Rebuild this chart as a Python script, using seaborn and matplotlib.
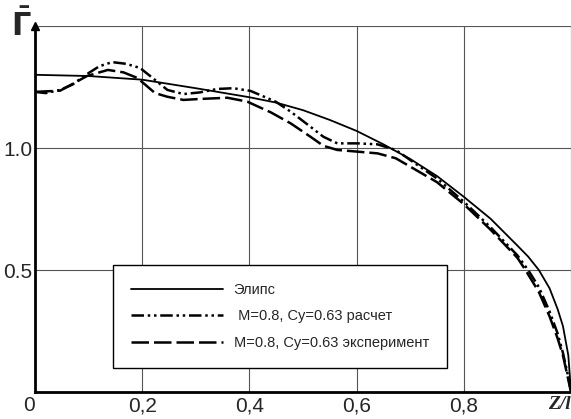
import pandas as pd
import seaborn as sns
import matplotlib.pyplot as plt

# values
ellipse_z = [0.0, 0.1, 0.2, 0.3, 0.4, 0.45, 0.5, 0.55, 0.6, 0.65, 0.7, 0.75, 0.8, 0.85, 0.9,
             0.92, 0.94, 0.96, 0.975, 0.985, 0.995, 1.0]
ellipse_g = [1.30, 1.295, 1.28, 1.245, 1.208, 1.186, 1.155, 1.115, 1.07, 1.015, 0.955, 0.885,
             0.80, 0.71, 0.60, 0.555, 0.50, 0.425, 0.34, 0.27, 0.15, 0.0]

calc_z = [0.0, 0.02, 0.047, 0.07, 0.097, 0.12, 0.144, 0.17, 0.196, 0.224, 0.247, 0.277, 0.308,
          0.34, 0.37, 0.402, 0.449, 0.477, 0.514, 0.538, 0.564, 0.602, 0.639, 0.673, 0.75, 0.8,
          0.85, 0.9, 0.92, 0.94, 0.96, 0.975, 0.985, 0.995, 1.0]
calc_g = [1.23, 1.225, 1.238, 1.26, 1.303, 1.335, 1.352, 1.345, 1.328, 1.279, 1.238, 1.221, 1.228,
          1.242, 1.245, 1.234, 1.19, 1.149, 1.087, 1.046, 1.019, 1.019, 1.015, 0.992, 0.875, 0.78,
          0.675, 0.56, 0.50, 0.43, 0.33, 0.24, 0.16, 0.06, 0.0]

exp_z = [0.0, 0.047, 0.097, 0.136, 0.165, 0.191, 0.224, 0.247, 0.277, 0.308, 0.359, 0.396, 0.44,
         0.477, 0.514, 0.538, 0.564, 0.602, 0.639, 0.673, 0.75, 0.8, 0.85, 0.9, 0.915, 0.94, 0.96,
         0.975, 0.985, 0.995, 1.0]
exp_g = [1.23, 1.235, 1.295, 1.32, 1.31, 1.287, 1.225, 1.21, 1.197, 1.201, 1.206, 1.19, 1.146,
         1.101, 1.046, 1.009, 0.992, 0.985, 0.978, 0.958, 0.86, 0.77, 0.665, 0.55, 0.50, 0.41,
         0.31, 0.22, 0.15, 0.05, 0.0]

labels = ['Элипс', ' M=0.8, Cy=0.63 расчет', 'M=0.8, Cy=0.63 эксперимент']
xticks = [0, 0.2, 0.4, 0.6, 0.8, 1.0]
xticklabels = ['0', '0,2', '0,4', '0,6', '0,8', 'Z/l']
yticks = [0.5, 1.0, 1.5]
yticklabels = ['0.5', '1.0', '']

sns.set_style('white')
plt.rcParams['font.family'] = ['Liberation Sans', 'DejaVu Sans']

fig = plt.figure(figsize=(5.71, 4.19), dpi=100)
ax = fig.add_axes([35 / 571, 27 / 419, 536 / 571, 366 / 419])

sns.lineplot(x=ellipse_z, y=ellipse_g, ax=ax, color='black', lw=1.3, label=labels[0])
sns.lineplot(x=calc_z, y=calc_g, ax=ax, color='black', lw=1.8, label=labels[1],
             linestyle=(0, (5, 1.5, 1, 1.5, 1, 1.5)))
sns.lineplot(x=exp_z, y=exp_g, ax=ax, color='black', lw=1.8, label=labels[2],
             linestyle=(0, (7, 2)))

ax.set_xlim(0, 1.0)
ax.set_ylim(0, 1.5)
ax.set_xticks(xticks)
ax.set_xticklabels(xticklabels)
ax.set_yticks(yticks)
ax.set_yticklabels(yticklabels)
ax.grid(True, color='#555555', lw=0.8)
ax.tick_params(length=0, labelsize=15, pad=3)
ax.tick_params(axis='y', pad=2)
for lab in ax.get_xticklabels() + ax.get_yticklabels():
    lab.set_family(['Liberation Sans Narrow', 'Liberation Sans', 'DejaVu Sans'])
xl = ax.get_xticklabels()
xl[0].set_horizontalalignment('right')
xl[-1].set_family(['Liberation Serif', 'DejaVu Serif'])
xl[-1].set_style('italic')
xl[-1].set_weight('bold')
xl[-1].set_fontsize(14)
xl[-1].set_horizontalalignment('right')

ax.spines['right'].set_visible(False)
ax.spines['top'].set_visible(False)
for s in ['left', 'bottom']:
    ax.spines[s].set_linewidth(2)
    ax.spines[s].set_color('black')
ax.plot([0], [1.5], marker='^', color='black', markersize=6, clip_on=False)

ax.set_xlabel('')
ax.set_ylabel('')
fig.text(0.02, 0.978, r'$\mathbf{\bar{\Gamma}}$', fontsize=22, ha='left', va='top')

leg = ax.legend(loc='lower left', bbox_to_anchor=(0.146, 0.066), borderaxespad=0,
                fontsize=10.5, handlelength=6.3, handletextpad=0.7, labelspacing=0.85,
                borderpad=1.25, fancybox=False, framealpha=1, edgecolor='black')
leg.get_frame().set_linewidth(1)

fig.savefig('out.png', dpi=100)
